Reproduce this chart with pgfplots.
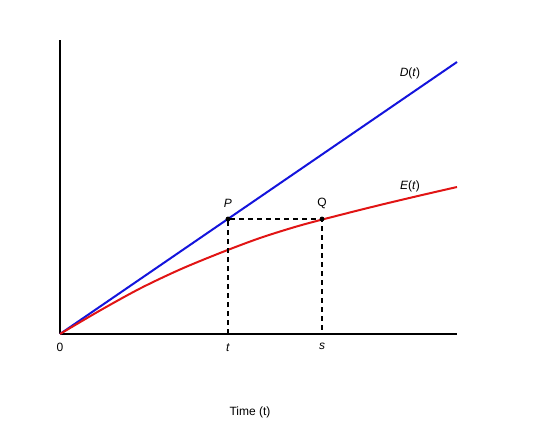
\documentclass[border=0pt]{standalone}
\usepackage{pgfplots}
\pgfplotsset{compat=1.18}
\usepackage{fontspec}
\setmainfont{Liberation Sans}
\definecolor{dblue}{RGB}{20,20,220}
\definecolor{ered}{RGB}{225,20,20}

\begin{document}
\begin{tikzpicture}
\begin{axis}[
    x=1pt, y=1pt,
    xmin=0, xmax=397,
    ymin=0, ymax=294,
    axis lines=left,
    axis line style={-, line width=1.3pt},
    clip=false,
    xtick={0,168,262},
    xticklabels={0,\textit{t},\textit{s}},
    ytick=\empty,
    major tick length=0pt,
    xticklabel style={yshift=-6pt},
    every tick label/.style={font=\fontsize{12}{14}\selectfont},
    /pgf/number format/assume math mode=true,
    font=\fontsize{12}{14}\selectfont,
]
% invisible frame for the page size
\path (axis cs:-60,-90) rectangle (axis cs:480,334);

% D(t)
\addplot[dblue, line width=2pt] coordinates {(0,0) (397,272)};
% E(t)
\addplot[ered, line width=2pt, smooth] coordinates {
    (0,0) (40,23.5) (80,45.5) (120,64.5) (160,81) (200,96)
    (240,108.5) (280,119) (320,129) (360,138.5) (397,147)
};
% dashed guides
\addplot[black, line width=1.1pt, dash pattern=on 5pt off 4pt] coordinates {
    (168,0) (168,115) (262,115) (262,0)
};
% P and Q
\addplot[only marks, mark=*, mark size=2.2pt, black] coordinates {(168,115) (262,115)};

\node at (axis cs:350,261) {\textit{D}(\textit{t})};
\node at (axis cs:350,148) {\textit{E}(\textit{t})};
\node at (axis cs:168,131) {\textit{P}};
\node at (axis cs:262,131) {Q};
\node at (axis cs:190,-78) {Time (t)};
\end{axis}
\end{tikzpicture}
\end{document}
